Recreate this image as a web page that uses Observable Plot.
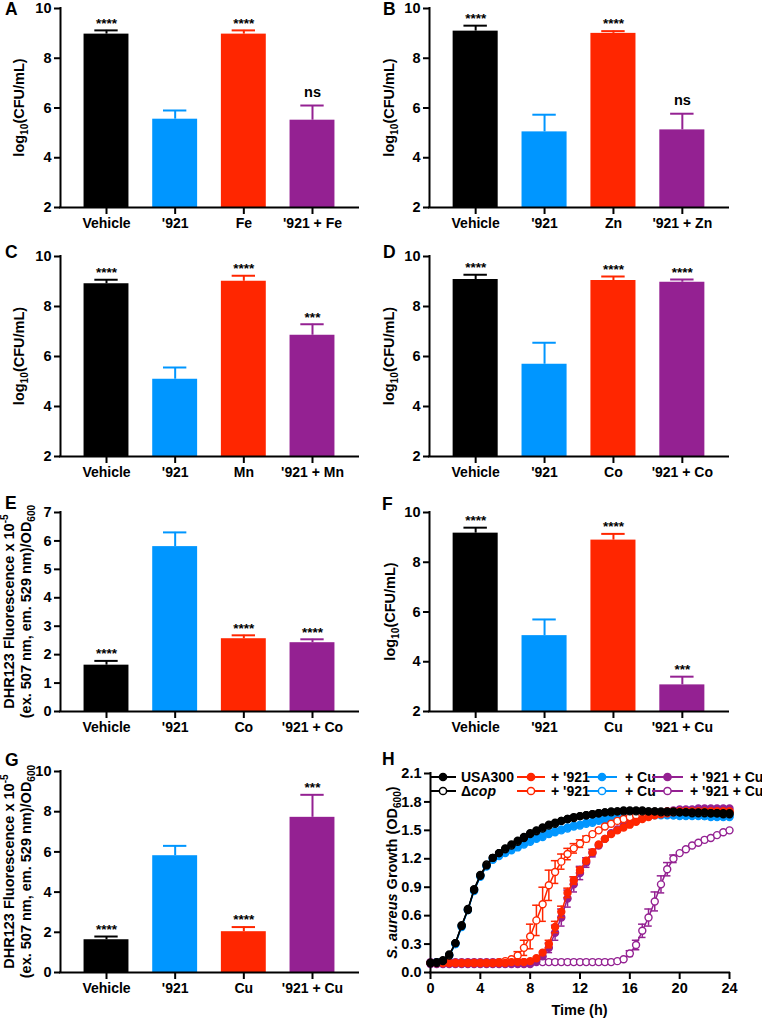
<!DOCTYPE html>
<html><head><meta charset="utf-8">
<script src="https://cdn.jsdelivr.net/npm/d3@7"></script>
<script src="https://cdn.jsdelivr.net/npm/@observablehq/plot@0.6"></script>
<style>
body{margin:0;background:#fff;}
#fig{position:relative;width:762px;height:1020px;overflow:hidden;background:#fff;font-family:"Liberation Sans",Arial,Helvetica,sans-serif;}
.panel{position:absolute;}
#overlay{position:absolute;left:0;top:0;pointer-events:none;}
</style></head><body><div id="fig"></div>
<script>
// ---------------- DATA ----------------
const barColors = ["#000000", "#0096FF", "#FF2600", "#942192"];
const cfuTicks = [2, 4, 6, 8, 10];
const dhrTicksE = [0, 1, 2, 3, 4, 5, 6, 7];
const dhrTicksG = [0, 2, 4, 6, 8, 10];

const catsA = ["Vehicle", "'921", "Fe", "'921 + Fe"];
const meansA = [8.97, 5.55, 8.97, 5.51];
const errsA = [0.15, 0.35, 0.15, 0.59];
const sigsA = ["****", "", "****", "ns"];

const catsB = ["Vehicle", "'921", "Zn", "'921 + Zn"];
const meansB = [9.09, 5.04, 9.00, 5.12];
const errsB = [0.22, 0.69, 0.09, 0.65];
const sigsB = ["****", "", "****", "ns"];

const catsC = ["Vehicle", "'921", "Mn", "'921 + Mn"];
const meansC = [8.91, 5.09, 9.01, 6.85];
const errsC = [0.16, 0.47, 0.22, 0.44];
const sigsC = ["****", "", "****", "***"];

const catsD = ["Vehicle", "'921", "Co", "'921 + Co"];
const meansD = [9.08, 5.69, 9.04, 8.97];
const errsD = [0.19, 0.86, 0.16, 0.11];
const sigsD = ["****", "", "****", "****"];

const catsE = ["Vehicle", "'921", "Co", "'921 + Co"];
const meansE = [1.63, 5.80, 2.56, 2.42];
const errsE = [0.15, 0.50, 0.12, 0.12];
const sigsE = ["****", "", "****", "****"];

const catsF = ["Vehicle", "'921", "Cu", "'921 + Cu"];
const meansF = [9.17, 5.05, 8.89, 3.07];
const errsF = [0.22, 0.65, 0.25, 0.33];
const sigsF = ["****", "", "****", "***"];

const catsG = ["Vehicle", "'921", "Cu", "'921 + Cu"];
const meansG = [1.63, 5.81, 2.03, 7.72];
const errsG = [0.16, 0.49, 0.23, 1.12];
const sigsG = ["****", "", "****", "***"];

// Panel H: growth curves
const timeH = [0,0.5,1,1.5,2,2.5,3,3.5,4,4.5,5,5.5,6,6.5,7,7.5,8,8.5,9,9.5,10,10.5,11,11.5,12,12.5,13,13.5,14,14.5,15,15.5,16,16.5,17,17.5,18,18.5,19,19.5,20,20.5,21,21.5,22,22.5,23,23.5,24];
const timeTicksH = [0, 4, 8, 12, 16, 20, 24];
const odTicksH = [0, 0.3, 0.6, 0.9, 1.2, 1.5, 1.8, 2.1];
const strainNames = ["USA300", "Δcop"];
const treatNames = ["", "+ '921", "+ Cu", "+ '921 + Cu"];
const treatColors = ["#000000", "#FF2600", "#0096FF", "#942192"];

const odUSA300 = [0.10,0.11,0.13,0.19,0.31,0.49,0.67,0.87,1.02,1.13,
  1.21,1.26,1.31,1.35,1.39,1.43,1.47,1.50,1.53,1.56,
  1.58,1.60,1.62,1.64,1.65,1.66,1.67,1.68,1.69,1.70,
  1.70,1.71,1.71,1.71,1.71,1.70,1.70,1.70,1.70,1.70,
  1.69,1.69,1.69,1.69,1.69,1.68,1.68,1.68,1.68];
const odDcop = [0.10,0.10,0.12,0.18,0.31,0.50,0.66,0.88,1.03,1.14,
  1.21,1.26,1.30,1.34,1.38,1.42,1.46,1.49,1.52,1.55,
  1.57,1.60,1.62,1.63,1.65,1.66,1.67,1.68,1.69,1.69,
  1.70,1.70,1.70,1.70,1.70,1.70,1.70,1.69,1.69,1.69,
  1.69,1.69,1.68,1.68,1.68,1.68,1.68,1.67,1.67];
const odUSA300_921 = [0.10,0.10,0.10,0.10,0.10,0.10,0.10,0.10,0.10,0.10,
  0.10,0.10,0.10,0.11,0.11,0.11,0.12,0.15,0.21,0.30,
  0.48,0.64,0.84,0.97,1.08,1.18,1.27,1.35,1.41,1.46,
  1.50,1.53,1.56,1.59,1.62,1.64,1.66,1.67,1.68,1.69,
  1.70,1.70,1.70,1.70,1.70,1.70,1.70,1.70,1.70];
const odDcop_921 = [0.10,0.10,0.10,0.10,0.10,0.10,0.10,0.10,0.10,0.10,
  0.10,0.11,0.12,0.14,0.18,0.26,0.38,0.55,0.72,0.92,
  1.06,1.17,1.25,1.31,1.36,1.41,1.46,1.50,1.54,1.57,
  1.60,1.62,1.64,1.66,1.67,1.68,1.69,1.69,1.70,1.70,
  1.70,1.70,1.70,1.70,1.70,1.70,1.70,1.70,1.70];
const odUSA300_Cu = [0.10,0.11,0.12,0.18,0.30,0.48,0.66,0.86,1.01,1.12,
  1.20,1.24,1.27,1.30,1.33,1.36,1.39,1.42,1.44,1.47,
  1.49,1.51,1.53,1.55,1.56,1.58,1.59,1.61,1.62,1.63,
  1.64,1.65,1.66,1.66,1.67,1.67,1.67,1.67,1.67,1.66,
  1.66,1.66,1.66,1.66,1.65,1.65,1.65,1.65,1.65];
const odDcop_Cu = [0.10,0.10,0.12,0.18,0.30,0.49,0.66,0.87,1.02,1.12,
  1.19,1.23,1.26,1.29,1.32,1.35,1.38,1.41,1.43,1.46,
  1.48,1.50,1.52,1.54,1.55,1.57,1.58,1.60,1.61,1.62,
  1.63,1.64,1.65,1.65,1.66,1.66,1.66,1.66,1.66,1.66,
  1.65,1.65,1.65,1.65,1.65,1.64,1.64,1.64,1.64];
const odUSA300_921Cu = [0.09,0.09,0.09,0.09,0.09,0.09,0.09,0.09,0.09,0.09,
  0.09,0.09,0.09,0.09,0.09,0.09,0.09,0.12,0.17,0.26,
  0.42,0.58,0.78,0.93,1.05,1.16,1.26,1.34,1.41,1.47,
  1.51,1.55,1.58,1.61,1.64,1.66,1.68,1.69,1.70,1.71,
  1.72,1.72,1.72,1.73,1.73,1.73,1.73,1.73,1.73];
const odDcop_921Cu = [0.11,0.11,0.11,0.11,0.11,0.11,0.11,0.11,0.11,0.11,
  0.11,0.11,0.11,0.11,0.11,0.11,0.11,0.11,0.11,0.11,
  0.11,0.11,0.11,0.11,0.11,0.11,0.11,0.11,0.11,0.11,
  0.12,0.14,0.20,0.29,0.44,0.58,0.75,0.93,1.09,1.20,
  1.26,1.30,1.34,1.37,1.40,1.42,1.45,1.48,1.50];

// error (SD) values as [time, sd]
const sdUSA300_921 = [[9.5,0.04],[10,0.06],[10.5,0.06],[11,0.05],[11.5,0.04],[12,0.03]];
const sdDcop_921 = [[7,0.04],[7.5,0.08],[8,0.13],[8.5,0.16],[9,0.18],[9.5,0.16],[10,0.12],[10.5,0.08],[11,0.06],[11.5,0.05],[12,0.04],[12.5,0.03]];
const sdUSA300_921Cu = [[9.5,0.05],[10,0.08],[10.5,0.09],[11,0.09],[11.5,0.08],[12,0.07],[12.5,0.05],[13,0.04]];
const sdDcop_921Cu = [[16,0.03],[16.5,0.05],[17,0.07],[17.5,0.09],[18,0.10],[18.5,0.09],[19,0.07],[19.5,0.04]];

// ---------------- LAYOUT ----------------
const FONT = '"Liberation Sans", Arial, Helvetica, sans-serif';
const fig = document.getElementById("fig");
const plotStyle = {fontFamily: FONT, fontWeight: "bold", fontSize: "14px", background: "transparent", color: "black", overflow: "visible"};

function addRotLabel(svg, cx, cy, parts, fs) {
  const text = d3.select(svg).append("text")
    .attr("transform", `translate(${cx + fs * 0.27},${cy}) rotate(-90)`)
    .attr("text-anchor", "middle").attr("font-size", fs).attr("font-weight", "bold")
    .attr("font-family", FONT).attr("fill", "black");
  let shift = 0;
  parts.forEach(p => {
    const ts = text.append("tspan").text(p.t);
    const target = p.sub ? fs * 0.3 : p.sup ? -fs * 0.38 : 0;
    ts.attr("dy", target - shift);
    shift = target;
    if (p.sub || p.sup) ts.attr("font-size", fs * 0.7);
    if (p.italic) ts.attr("font-style", "italic");
  });
}

const cfuLabel = [[{t: "log"}, {t: "10", sub: true}, {t: "(CFU/mL)"}]];
const dhrLabel = [
  [{t: "DHR123 Fluorescence x 10"}, {t: "-5", sup: true}],
  [{t: "(ex. 507 nm, em. 529 nm)/OD"}, {t: "600", sub: true}]
];

const barPanels = [
  {left: 0, top: 0, w: 380, h: 250, ml: 60, mr: 22, mt: 8, mb: 43, labX: [20], lab: cfuLabel, cats: catsA, means: meansA, errs: errsA, sigs: sigsA, ticks: cfuTicks},
  {left: 380, top: 0, w: 382, h: 250, ml: 49, mr: 34, mt: 8, mb: 43, labX: [10], lab: cfuLabel, cats: catsB, means: meansB, errs: errsB, sigs: sigsB, ticks: cfuTicks},
  {left: 0, top: 250, w: 380, h: 250, ml: 60, mr: 22, mt: 6, mb: 44, labX: [20], lab: cfuLabel, cats: catsC, means: meansC, errs: errsC, sigs: sigsC, ticks: cfuTicks},
  {left: 380, top: 250, w: 382, h: 250, ml: 49, mr: 34, mt: 6, mb: 44, labX: [10], lab: cfuLabel, cats: catsD, means: meansD, errs: errsD, sigs: sigsD, ticks: cfuTicks},
  {left: 0, top: 500, w: 380, h: 265, ml: 60, mr: 22, mt: 12, mb: 54, labX: [10, 27], lab: dhrLabel, cats: catsE, means: meansE, errs: errsE, sigs: sigsE, ticks: dhrTicksE},
  {left: 380, top: 500, w: 382, h: 265, ml: 49, mr: 34, mt: 12, mb: 54, labX: [11], lab: cfuLabel, cats: catsF, means: meansF, errs: errsF, sigs: sigsF, ticks: cfuTicks},
  {left: 0, top: 765, w: 380, h: 255, ml: 60, mr: 22, mt: 6, mb: 48, labX: [10, 27], lab: dhrLabel, cats: catsG, means: meansG, errs: errsG, sigs: sigsG, ticks: dhrTicksG}
];

function place(el, left, top) {
  const d = document.createElement("div");
  d.className = "panel";
  d.style.left = left + "px"; d.style.top = top + "px";
  d.appendChild(el);
  fig.appendChild(d);
}

const xDom = [-0.67, 3.67];
barPanels.forEach(p => {
  const tbl = p.cats.map((c, i) => ({i, cat: c, mean: p.means[i], top: p.means[i] + p.errs[i], sig: p.sigs[i], color: barColors[i]}));
  const y0 = p.ticks[0], y1 = p.ticks[p.ticks.length - 1];
  const svg = Plot.plot({
    width: p.w, height: p.h, marginLeft: p.ml, marginRight: p.mr, marginTop: p.mt, marginBottom: p.mb,
    style: plotStyle,
    x: {domain: xDom, label: null},
    y: {domain: [y0, y1], label: null},
    color: {type: "identity"},
    marks: [
      Plot.rect(tbl, {x1: d => d.i - 0.327, x2: d => d.i + 0.327, y1: y0, y2: "mean", fill: "color"}),
      Plot.ruleX(tbl, {x: "i", y1: "mean", y2: "top", stroke: "color", strokeWidth: 2}),
      Plot.ruleY(tbl, {y: "top", x1: d => d.i - 0.17, x2: d => d.i + 0.17, stroke: "color", strokeWidth: 2}),
      Plot.text(tbl.filter(d => d.sig.startsWith("*")), {x: "i", y: "top", text: "sig", dy: -7, fontSize: 13.5, fontWeight: "bold", fill: "black"}),
      Plot.text(tbl.filter(d => d.sig === "ns"), {x: "i", y: "top", text: "sig", dy: -13, fontSize: 14.5, fontWeight: "bold", fill: "black"}),
      Plot.axisY({ticks: p.ticks, tickSize: 6, tickPadding: 3, fontSize: 14.5, fontWeight: "bold", strokeWidth: 2, label: null, tickFormat: d => String(d)}),
      Plot.axisX({ticks: tbl.map(d => d.i), tickFormat: i => p.cats[i], tickSize: 7, tickPadding: 4, fontSize: 14, fontWeight: "bold", strokeWidth: 2, label: null}),
      Plot.ruleX([xDom[0]], {strokeWidth: 2, stroke: "black", strokeLinecap: "square"}),
      Plot.ruleY([y0], {strokeWidth: 2, stroke: "black", strokeLinecap: "square"})
    ]
  });
  const cy = p.mt + (p.h - p.mt - p.mb) / 2;
  p.lab.forEach((parts, k) => addRotLabel(svg, p.labX[k], cy, parts, 14.5));
  place(svg, p.left, p.top);
});

// ---------------- PANEL H ----------------
const seriesH = [
  {strain: 0, treat: 0, values: odUSA300, sd: []},
  {strain: 1, treat: 0, values: odDcop, sd: []},
  {strain: 0, treat: 1, values: odUSA300_921, sd: sdUSA300_921},
  {strain: 1, treat: 1, values: odDcop_921, sd: sdDcop_921},
  {strain: 0, treat: 2, values: odUSA300_Cu, sd: []},
  {strain: 1, treat: 2, values: odDcop_Cu, sd: []},
  {strain: 0, treat: 3, values: odUSA300_921Cu, sd: sdUSA300_921Cu},
  {strain: 1, treat: 3, values: odDcop_921Cu, sd: sdDcop_921Cu}
];
const hMarks = [];
seriesH.slice().reverse().forEach(s => {
  const color = treatColors[s.treat];
  const rows = timeH.map((t, k) => ({t, v: s.values[k]}));
  const errRows = s.sd.map(([t, sd]) => {
    const v = s.values[timeH.indexOf(t)];
    return {t, lo: v - sd, hi: v + sd};
  });
  hMarks.push(Plot.line(rows, {x: "t", y: "v", stroke: color, strokeWidth: 1.5}));
  hMarks.push(Plot.ruleX(errRows, {x: "t", y1: "lo", y2: "hi", stroke: color, strokeWidth: 1.5}));
  hMarks.push(Plot.ruleY(errRows, {y: "hi", x1: d => d.t - 0.3, x2: d => d.t + 0.3, stroke: color, strokeWidth: 1.5}));
  hMarks.push(Plot.ruleY(errRows, {y: "lo", x1: d => d.t - 0.3, x2: d => d.t + 0.3, stroke: color, strokeWidth: 1.5}));
  hMarks.push(Plot.dot(rows, {x: "t", y: "v", r: 3.5, fill: s.strain === 0 ? color : "white", stroke: color, strokeWidth: 1.4}));
});
const H = {left: 380, top: 765, w: 382, h: 255, ml: 50, mr: 33, mt: 8, mb: 48};
const svgH = Plot.plot({
  width: H.w, height: H.h, marginLeft: H.ml, marginRight: H.mr, marginTop: H.mt, marginBottom: H.mb,
  style: plotStyle,
  x: {domain: [0, 24], label: null},
  y: {domain: [0, 2.1], label: null},
  marks: [
    ...hMarks,
    Plot.axisY({ticks: odTicksH, tickFormat: d => d.toFixed(1), tickSize: 6, tickPadding: 3, fontSize: 14.5, fontWeight: "bold", strokeWidth: 2, label: null}),
    Plot.axisX({ticks: timeTicksH, tickFormat: d => String(d), tickSize: 7, tickPadding: 3, fontSize: 14.5, fontWeight: "bold", strokeWidth: 2, label: null}),
    Plot.ruleX([0], {strokeWidth: 2, stroke: "black", strokeLinecap: "square"}),
    Plot.ruleY([0], {strokeWidth: 2, stroke: "black", strokeLinecap: "square"})
  ]
});
addRotLabel(svgH, 13, H.mt + (H.h - H.mt - H.mb) / 2,
  [{t: "S. aureus", italic: true}, {t: " Growth (OD"}, {t: "600", sub: true}, {t: ")"}], 14.5);
d3.select(svgH).append("text")
  .attr("x", H.ml + (H.w - H.ml - H.mr) / 2).attr("y", H.h - 5)
  .attr("text-anchor", "middle").attr("font-size", 14.5).attr("font-weight", "bold")
  .attr("font-family", FONT).text("Time (h)");
place(svgH, H.left, H.top);

// ---------------- OVERLAY: panel letters + legend of H ----------------
const ov = d3.select(fig).append("svg").attr("id", "overlay").attr("width", 762).attr("height", 1020)
  .attr("font-family", FONT).attr("font-weight", "bold");
const letters = [
  {t: "A", x: 5, y: 15}, {t: "B", x: 383, y: 15},
  {t: "C", x: 5, y: 258}, {t: "D", x: 383, y: 258},
  {t: "E", x: 5, y: 509}, {t: "F", x: 382, y: 510},
  {t: "G", x: 5, y: 766}, {t: "H", x: 382, y: 765}
];
ov.selectAll("text.letter").data(letters).join("text").attr("class", "letter")
  .attr("x", d => d.x).attr("y", d => d.y).attr("font-size", 17.5).text(d => d.t);

const legSw = [[430, 456], [517, 545], [587, 617], [652, 683]];
const legTx = [461, 551, 625, 690];
const legRowY = [777, 791];
seriesH.forEach(s => {
  const [a, b] = legSw[s.treat];
  const y = legRowY[s.strain];
  const color = treatColors[s.treat];
  ov.append("line").attr("x1", a).attr("x2", b).attr("y1", y).attr("y2", y).attr("stroke", color).attr("stroke-width", 2);
  ov.append("circle").attr("cx", (a + b) / 2).attr("cy", y).attr("r", 3.6)
    .attr("fill", s.strain === 0 ? color : "white").attr("stroke", color).attr("stroke-width", 1.5);
  const tx = ov.append("text").attr("x", legTx[s.treat]).attr("y", y + 4.8).attr("font-size", 14).attr("fill", "black");
  if (s.treat === 0) {
    const name = strainNames[s.strain];
    if (s.strain === 1) {
      tx.append("tspan").text(name.slice(0, 1));
      tx.append("tspan").attr("font-style", "italic").text(name.slice(1));
    } else tx.text(name);
  } else {
    tx.text(treatNames[s.treat]);
  }
});
</script></body></html>
